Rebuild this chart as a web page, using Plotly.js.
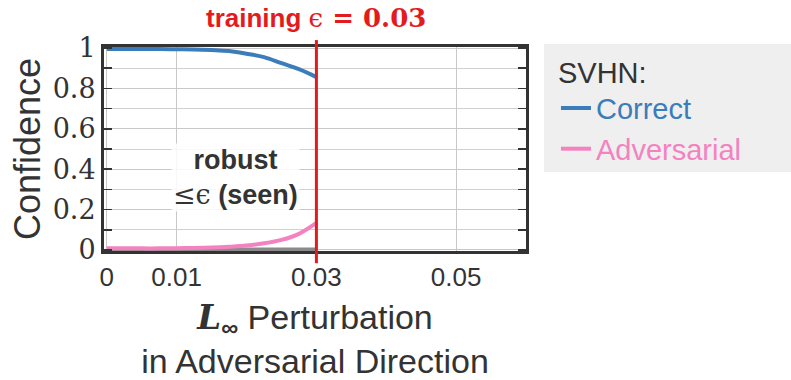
<!DOCTYPE html>
<html><head><meta charset="utf-8">
<script src="https://cdn.plot.ly/plotly-3.0.1.min.js"></script>
<style>body{margin:0;background:#fff}#c{width:791px;height:380px}</style>
</head><body><div id="c"></div>
<script>
const perturbation = [0,0.0025,0.005,0.0075,0.01,0.0125,0.015,0.0175,0.02,0.0225,0.025,0.0275,0.03];
const correct = [0.995,0.995,0.995,0.995,0.994,0.993,0.99,0.985,0.972,0.955,0.925,0.895,0.856];
const adversarial = [0.008,0.008,0.008,0.008,0.009,0.01,0.012,0.016,0.022,0.033,0.05,0.08,0.134];
const baselineX = [0,0.03];
const baselineY = [0,0];
const xTicks = [0,0.01,0.03,0.05];
const xTickText = ['0','0.01','0.03','0.05'];
const yTicks = [0,0.2,0.4,0.6,0.8,1];
const yTickText = ['0','0.2','0.4','0.6','0.8','1'];
const trainEps = 0.03;

const traces = [
  {x: baselineX, y: baselineY, mode:'lines', line:{color:'#8a8a8a', width:5}, showlegend:false, hoverinfo:'skip'},
  {x: perturbation, y: correct, mode:'lines', line:{color:'#3a7dba', width:4, shape:'spline'}, name:'<span style="color:#3a7dba">Correct</span>'},
  {x: perturbation, y: adversarial, mode:'lines', line:{color:'#f582c0', width:4, shape:'spline'}, name:'<span style="color:#f582c0">Adversarial</span>'}
];

const layout = {
  width:791, height:380,
  margin:{l:104, r:265, t:47, b:129},
  paper_bgcolor:'#fff', plot_bgcolor:'#fff',
  font:{family:'Liberation Sans, Arial, sans-serif', color:'#333'},
  xaxis:{
    range:[-0.0004,0.06], tickvals:xTicks, ticktext:xTickText,
    tickfont:{size:26, color:'#333'}, showgrid:true, gridcolor:'#c8c8c8', gridwidth:1,
    showline:true, mirror:true, linecolor:'#333', linewidth:3, zeroline:false, ticks:'', ticklen:0,
    ticklabelstandoff:1,
    title:{text:'<b><i style="font-family:DejaVu Serif">L</i></b><sub><b>∞</b></sub> Perturbation<br>in Adversarial Direction', font:{size:34, color:'#333'}, standoff:16}
  },
  yaxis:{
    range:[-0.005,1.005], tickvals:yTicks, ticktext:yTickText,
    tickfont:{size:27, family:'DejaVu Serif, serif', color:'#333'},
    ticksuffix:'\u00a0',
    showgrid:true, gridcolor:'#c8c8c8', gridwidth:1,
    minor:{dtick:0.1, showgrid:true, gridcolor:'#d0d0d0', ticks:'inside', ticklen:8, tickcolor:'#333', tickwidth:1.5},
    ticks:'inside', ticklen:8, tickcolor:'#333', tickwidth:1.5,
    showline:true, mirror:'ticks', linecolor:'#333', linewidth:3, zeroline:false,
    title:{text:'Confidence', font:{size:36, color:'#333'}, standoff:2}
  },
  legend:{
    x:1.071, xanchor:'left', y:1.01, yanchor:'top',
    bgcolor:'rgba(0,0,0,0)', borderwidth:0,
    font:{size:29, color:'#333'},
    title:{text:'SVHN:', font:{size:29, color:'#333'}},
    itemwidth:30, tracegroupgap:0
  },
  shapes:[
    {type:'rect', xref:'paper', yref:'paper', x0:1.0427, x1:1.63, y0:0.387, y1:1.0147, fillcolor:'#efefef', line:{width:0}, layer:'below'},
    {type:'line', xref:'x', yref:'paper', x0:trainEps, x1:trainEps, y0:-0.06, y1:1.034, line:{color:'#e41a1c', width:3}}
  ],
  annotations:[
    {xref:'x', yref:'paper', x:trainEps, y:1.06, yanchor:'bottom', showarrow:false,
     text:'<b>training </b><span style="font-family:DejaVu Serif">ϵ</span><b style="font-family:DejaVu Serif"> = 0.03</b>',
     font:{size:26, color:'#e41a1c'}},
    {xref:'x', yref:'y', x:0.0184, y:0.36, showarrow:false, bgcolor:'rgba(255,255,255,0.85)',
     text:'<b>robust</b><br><span style="font-family:DejaVu Serif">≤ϵ</span> <b>(seen)</b>',
     font:{size:27, color:'#333'}}
  ],
  showlegend:true
};
Plotly.newPlot('c', traces, layout, {displayModeBar:false, staticPlot:true});
</script></body></html>
